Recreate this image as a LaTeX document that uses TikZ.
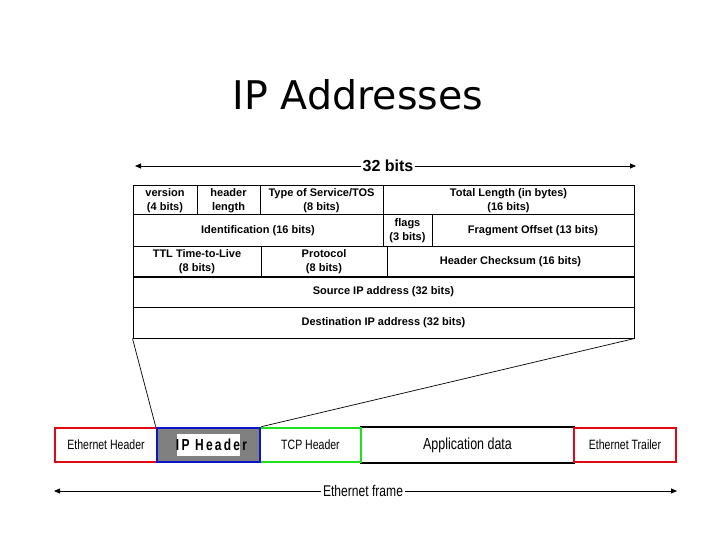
\documentclass[tikz,border=0pt]{standalone}
\usepackage{fontspec}
\setmainfont{Liberation Sans}
\newfontfamily\titlefont{DejaVu Sans}
\newfontfamily\narrowfont[FakeStretch=0.78]{Liberation Sans}
\newfontfamily\spacedfont[LetterSpace=14,FakeStretch=0.75]{Liberation Sans}
\usetikzlibrary{arrows.meta}
\definecolor{ethred}{RGB}{228,8,20}
\definecolor{ipblue}{RGB}{10,20,200}
\definecolor{tcpgreen}{RGB}{30,225,30}
\definecolor{ipgray}{RGB}{128,128,128}
\newcommand\cellbox[6]{%
  \node[cell,minimum width={(#4-#2)*1pt},minimum height={(#5-#3)*1pt}]
    (#1) at ({(#2+#4)/2},{(#3+#5)/2}) {#6};}
\newcommand\frbox[7]{%
  \node[fbox,draw=#6,minimum width={(#4-#2)*1pt},minimum height={(#5-#3)*1pt}]
    (#1) at ({(#2+#4)/2},{(#3+#5)/2}) {#7};}
\begin{document}
\begin{tikzpicture}[x=1pt,y=-1pt,
  cell/.style={draw,line width=1pt,inner sep=0pt,align=center,
    font=\fontsize{11}{13.5}\selectfont\bfseries},
  fbox/.style={line width=2.6pt,inner sep=0pt,align=center,
    font=\narrowfont\fontsize{13.5}{15}\selectfont},
  arr/.style={line width=0.8pt,-{Triangle[length=6pt,width=5pt]}},
  conn/.style={line width=0.7pt}]
\useasboundingbox (0,0) rectangle (720,540);
% title
\node[font=\titlefont\fontsize{39.5}{44}\selectfont] (title) at (358,95) {IP Addresses};
% 32 bits arrow
\node[font=\fontsize{16}{18}\selectfont\bfseries,inner sep=1pt] (bits) at (388,166) {32 bits};
\coordinate (bl) at (135,166);
\coordinate (br) at (636,166);
\draw[arr] (bits.west) -- (bl);
\draw[arr] (bits.east) -- (br);
% header table
\cellbox{ver}{133}{186}{197}{215}{version\\(4 bits)}
\cellbox{hl}{197}{186}{260}{215}{header\\length}
\cellbox{tos}{260}{186}{383}{215}{Type of Service/TOS\\(8 bits)}
\cellbox{tl}{383}{186}{634}{215}{Total Length (in bytes)\\(16 bits)}
\cellbox{id}{133}{215}{383}{246}{Identification (16 bits)}
\cellbox{fl}{383}{215}{432}{246}{flags\\(3 bits)}
\cellbox{fo}{432}{215}{634}{246}{Fragment Offset (13 bits)}
\cellbox{ttl}{133}{246}{261}{277}{TTL Time-to-Live\\(8 bits)}
\cellbox{pr}{261}{246}{387}{277}{Protocol\\(8 bits)}
\cellbox{cs}{387}{246}{634}{277}{Header Checksum (16 bits)}
\cellbox{src}{133}{277}{634}{307}{Source IP address (32 bits)}
\cellbox{dst}{133}{307}{634}{338}{Destination IP address (32 bits)}
\draw[line width=2pt] (src.north west) -- (src.north east);
% ethernet frame
\node[fbox,minimum width=213pt,minimum height=34pt,font=\narrowfont\fontsize{16}{18}\selectfont]
  (app) at (467.5,445) {Application data};
\draw[line width=2pt] (app.north west) -- (app.north east);
\draw[line width=2pt] (app.south west) -- (app.south east);
\frbox{eh}{55}{428}{157}{462}{ethred}{Ethernet Header}
\frbox{tcp}{260}{428}{361}{462}{tcpgreen}{TCP Header}
\frbox{et}{574}{428}{676}{462}{ethred}{Ethernet Trailer}
\node[fbox,draw=ipblue,fill=ipgray,minimum width=103pt,minimum height=34pt]
  (ip) at (208.5,445) {};
\node[fill=white,inner sep=0pt,minimum width=63pt,minimum height=22pt]
  (ipwhite) at (208.5,445) {};
\node[inner sep=0pt,font=\spacedfont\bfseries\fontsize{16}{18}\selectfont]
  (iptext) at (211.5,445) {IP Header};
% connectors from table to IP header
\draw[conn] (dst.south west) -- (ip.north west);
\draw[conn] (dst.south east) -- (ip.north east);
% ethernet frame arrow
\node[font=\narrowfont\fontsize{15.5}{17}\selectfont,inner sep=2pt] (ef) at (363,491) {Ethernet frame};
\coordinate (fl) at (54,491);
\coordinate (fr) at (677,491);
\draw[arr] (ef.west) -- (fl);
\draw[arr] (ef.east) -- (fr);
\end{tikzpicture}
\end{document}
